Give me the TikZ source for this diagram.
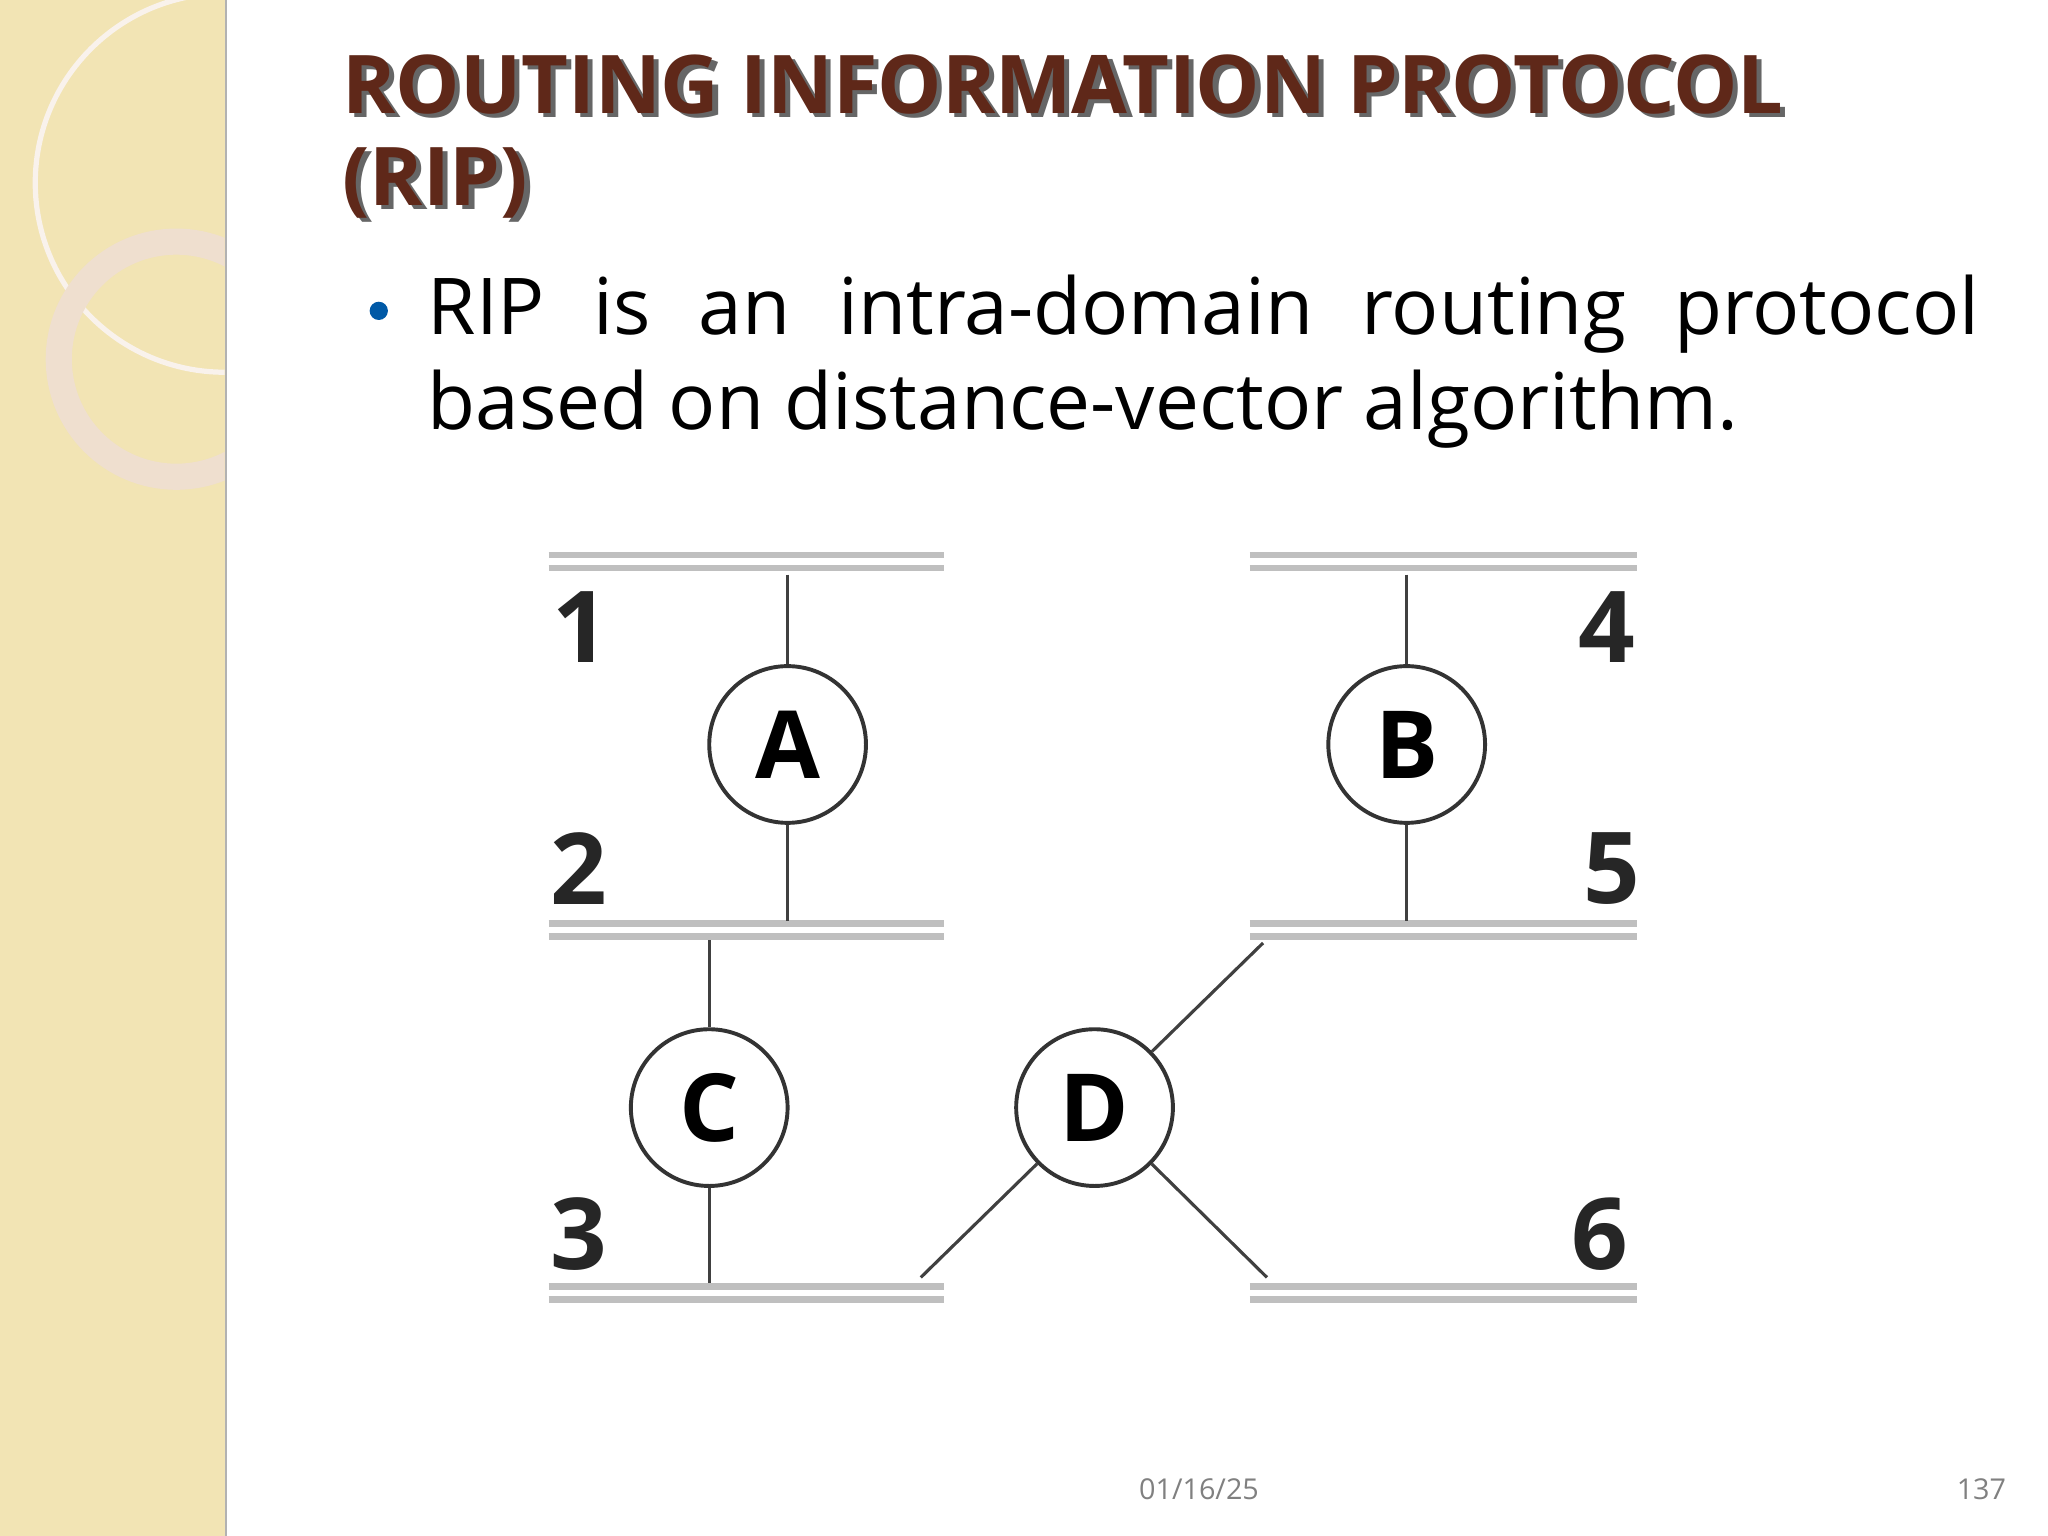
\documentclass[tikz,border=0pt]{standalone}
\usepackage{fontspec}
\setmainfont{Open Sans}
\definecolor{sidebeige}{RGB}{242,228,180}
\definecolor{titlebrown}{RGB}{95,40,25}
\begin{document}
\begin{tikzpicture}[x=0.5pt,y=-0.5pt,
  bar/.style={line width=2.5pt,draw=black!25},
  wire/.style={line width=1.2pt,draw=black!75},
  router/.style={circle,draw=black!80,line width=1.5pt,fill=white,minimum size=60pt,inner sep=0pt,font=\fontsize{36}{36}\selectfont\bfseries},
  num/.style={font=\fontsize{38}{38}\selectfont\bfseries,text=black!85},
  ttl/.style={anchor=west,font=\fontsize{31}{36}\selectfont\bfseries}]
\useasboundingbox (0,0) rectangle (1568,1176);
\fill[white] (0,0) rectangle (1568,1176);
\fill[sidebeige] (0,0) rectangle (172,1176);
\draw[black!30,line width=1pt] (173,0) -- (173,1176);
\begin{scope}
\clip (0,0) rectangle (172,1176);
\draw[white!90!brown,line width=2pt] (172,140) circle (145);
\draw[brown!25!white,line width=10pt] (135,275) circle (90);
\end{scope}
% title
\node[ttl,text=black!60] at (259,68) {ROUTING INFORMATION PROTOCOL};
\node[ttl,text=black!60] at (259,143) {(RIP)};
\node[ttl,text=titlebrown] (t1) at (255,65) {ROUTING INFORMATION PROTOCOL};
\node[ttl,text=titlebrown] (t2) at (255,140) {(RIP)};
% bullet
\fill[teal!70!blue] (290,238) circle (7);
\node[anchor=north west,inner sep=0pt,text width=594pt,align=justify,font=\fontsize{30}{36.5}\selectfont] (body) at (327,210) {RIP is an intra-domain routing protocol based on distance-vector algorithm.};
% bars
\foreach \y in {430,712,990}{
  \draw[bar] (420,\y-5) -- (723,\y-5); \draw[bar] (420,\y+5) -- (723,\y+5);
  \draw[bar] (957,\y-5) -- (1253,\y-5); \draw[bar] (957,\y+5) -- (1253,\y+5);}
\coordinate (a1) at (603,440); \coordinate (a2) at (603,705);
\coordinate (b1) at (1077,440); \coordinate (b2) at (1077,705);
\coordinate (c1) at (543,720); \coordinate (c2) at (543,982);
\coordinate (d1) at (967,722); \coordinate (d2) at (705,978); \coordinate (d3) at (970,978);
\node[router] (A) at (603,570) {A};
\node[router] (B) at (1077,570) {B};
\node[router] (C) at (543,848) {C};
\node[router] (D) at (838,848) {D};
\draw[wire] (a1) -- (A); \draw[wire] (A) -- (a2);
\draw[wire] (b1) -- (B); \draw[wire] (B) -- (b2);
\draw[wire] (c1) -- (C); \draw[wire] (C) -- (c2);
\draw[wire] (D) -- (d1); \draw[wire] (D) -- (d2); \draw[wire] (D) -- (d3);
\node[num] (n1) at (445,480) {1};
\node[num] (n2) at (443,665) {2};
\node[num] (n3) at (443,945) {3};
\node[num] (n4) at (1230,480) {4};
\node[num] (n5) at (1234,665) {5};
\node[num] (n6) at (1225,945) {6};
\node[text=black!50,font=\fontsize{11}{11}\selectfont] (date) at (918,1140) {01/16/25};
\node[text=black!50,font=\fontsize{11}{11}\selectfont] (pg) at (1517,1140) {137};
\end{tikzpicture}
\end{document}
